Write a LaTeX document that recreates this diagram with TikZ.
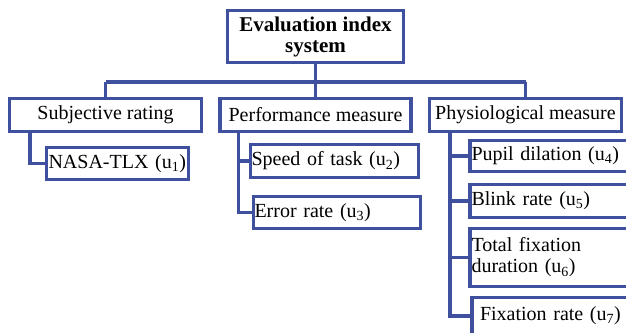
\documentclass[tikz,border=0pt]{standalone}
\usepackage{fontspec}
\setmainfont{Liberation Serif}
\definecolor{frame}{RGB}{62,80,158}
\begin{document}
\begin{tikzpicture}[x=1pt,y=-1pt,
  box/.style={draw=frame,line width=3.2pt,fill=white,rectangle,inner sep=0pt,
    font=\fontsize{20}{21}\selectfont},
  cbox/.style={box,align=center},
  lbox/.style={box,align=left},
  link/.style={draw=frame,line width=3.2pt}]
\useasboundingbox (0,0) rectangle (626,332);
\coordinate (bar) at (315.5,82);
\coordinate (barL) at (105.5,82);
\coordinate (barR) at (525.5,82);
\node[cbox,minimum width=176pt,minimum height=52pt,font=\fontsize{21}{21}\selectfont\bfseries] (root) at (315.5,36.5)
  {Evaluation index\\system};
\node[cbox,minimum width=192pt,minimum height=33pt] (subj) at (105.5,115) {Subjective rating};
\node[cbox,minimum width=191pt,minimum height=33pt] (perf) at (315.5,115) {Performance measure};
\node[cbox,minimum width=192pt,minimum height=33pt] (phys) at (525.5,115) {Physiological measure};
\node[lbox,minimum width=142pt,minimum height=32pt,text width=138pt] (nasa) at (117.5,163.5) {NASA-TLX (u\textsubscript{1})};
\node[lbox,minimum width=168pt,minimum height=33pt,text width=166pt] (speed) at (334.5,161) {Speed of task (u\textsubscript{2})};
\node[lbox,minimum width=167pt,minimum height=32pt,text width=165pt] (error) at (337,212.5) {Error rate (u\textsubscript{3})};
\node[lbox,minimum width=170pt,minimum height=31pt,text width=167pt] (pupil) at (555,156) {Pupil dilation (u\textsubscript{4})};
\node[lbox,minimum width=170pt,minimum height=33pt,text width=167pt] (blink) at (555,201) {Blink rate (u\textsubscript{5})};
\node[lbox,minimum width=170pt,minimum height=58pt,text width=167pt] (total) at (555,257.5) {Total fixation\\duration (u\textsubscript{6})};
\node[lbox,minimum width=168pt,minimum height=37pt,text width=152pt] (fix) at (556,316) {Fixation rate (u\textsubscript{7})};
\draw[link] (root.south) -- (bar);
\draw[link] (barL) -- (barR);
\draw[link] (subj.north) -- (barL);
\draw[link] (perf.north) -- (bar);
\draw[link] (phys.north) -- (barR);
\draw[link] ([xshift=-75.5pt]subj.south) |- (nasa.west);
\draw[link] ([xshift=-77pt]perf.south) |- (speed.west);
\draw[link] ([xshift=-77pt]perf.south) |- (error.west);
\draw[link] ([xshift=-75.5pt]phys.south) |- (pupil.west);
\draw[link] ([xshift=-75.5pt]phys.south) |- (blink.west);
\draw[link] ([xshift=-75.5pt]phys.south) |- (total.west);
\draw[link] ([xshift=-75.5pt]phys.south) |- (fix.west);
\end{tikzpicture}
\end{document}
